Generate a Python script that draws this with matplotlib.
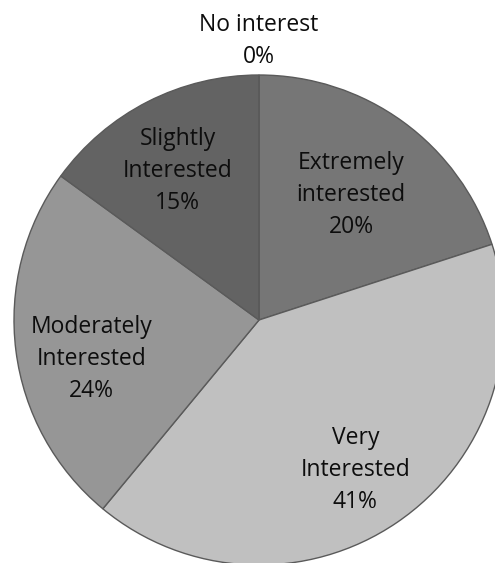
import numpy as np
import matplotlib.pyplot as plt

# survey answers, in drawing order (clockwise from 12 o'clock)
categories = ["Extremely\ninterested", "Very\nInterested", "Moderately\nInterested",
              "Slightly\nInterested", "No interest"]
shares = [20, 41, 24, 15, 0]
colors = ["#767676", "#c0c0c0", "#969696", "#636363", "#4d4d4d"]

# where each label sits: fraction of radius along the slice's mid-angle, plus a pixel nudge
label_dist = [0.64, 0.70, 0.69, 0.73, 1.15]
label_nudge = [(0, -2), (0, -8), (0, -18), (0, -10), (0, -3)]

W, H = 495, 563
center = (259, H - 320)
radius = 245

fig = plt.figure(figsize=(W / 100, H / 100), dpi=100)
ax = fig.add_axes([0, 0, 1, 1])

wedges, _ = ax.pie(shares, colors=colors, startangle=90, counterclock=False,
                   center=center, radius=radius,
                   wedgeprops=dict(edgecolor="#5a5a5a", linewidth=1.0))

for w, cat, val, d, (nx, ny) in zip(wedges, categories, shares, label_dist, label_nudge):
    mid = np.deg2rad((w.theta1 + w.theta2) / 2)
    x = center[0] + d * radius * np.cos(mid) + nx
    y = center[1] + d * radius * np.sin(mid) + ny
    ax.text(x, y, f"{cat}\n{val}%", ha="center", va="center", fontsize=16.5,
            family="Open Sans", color="#0d0d0d", linespacing=1.45)

ax.set_xlim(0, W)
ax.set_ylim(0, H)
ax.set_aspect("equal")
ax.axis("off")

fig.savefig("out.png", dpi=100)
